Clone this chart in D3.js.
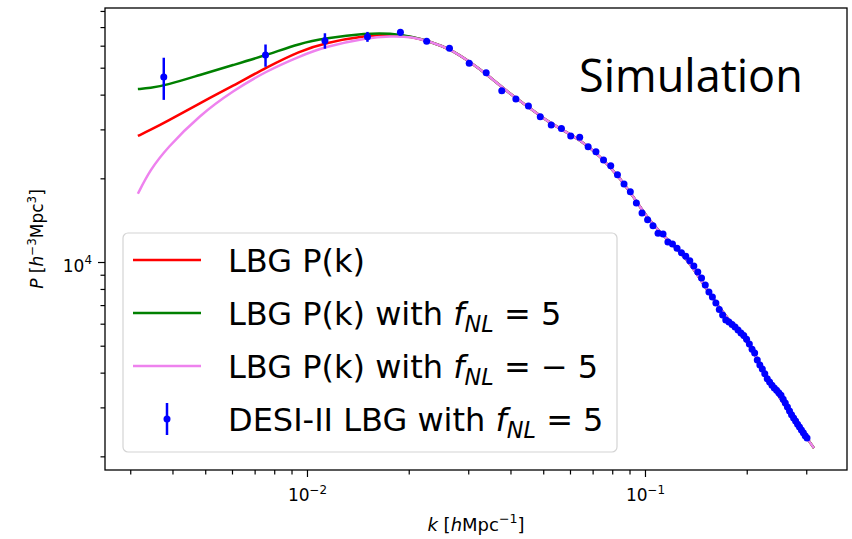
<!DOCTYPE html>
<html>
<head>
<meta charset="utf-8">
<script src="https://cdn.jsdelivr.net/npm/d3@7"></script>
<style>
  body { margin: 0; background: #fff; }
  svg { display: block; }
  text { font-family: "DejaVu Sans", sans-serif; white-space: pre; }
  text.note { font-family: "Open Sans", sans-serif; }
</style>
</head>
<body>
<svg id="chart" width="852" height="539"></svg>
<script>
// simulation points (k in h/Mpc, P in h^-3 Mpc^3)
const kData = [0.00377, 0.00754, 0.0113, 0.0151, 0.0189, 0.0226, 0.0264, 0.0302, 0.0339, 0.0377,
  0.0415, 0.0452, 0.0490, 0.0528, 0.0566, 0.0603, 0.0641, 0.0679, 0.0716, 0.0754,
  0.0792, 0.0829, 0.0867, 0.0905, 0.0943, 0.0980, 0.1018, 0.1056, 0.1093, 0.1131,
  0.1169, 0.1206, 0.1244, 0.1282, 0.1320, 0.1357, 0.1395, 0.1433, 0.1470, 0.1508,
  0.1546, 0.1583, 0.1621, 0.1659, 0.1697, 0.1734, 0.1772, 0.1810, 0.1847, 0.1885,
  0.1923, 0.1960, 0.1998, 0.2036, 0.2074, 0.2111, 0.2149, 0.2187, 0.2224, 0.2262,
  0.2300, 0.2337, 0.2375, 0.2413, 0.2451, 0.2488, 0.2526, 0.2564, 0.2601, 0.2639,
  0.2677, 0.2714, 0.2752, 0.2790, 0.2828, 0.2865, 0.2903, 0.2941, 0.2978, 0.3016];
const pData = [46300, 55500, 62500, 64600, 67000, 62200, 58700, 51900, 48000, 41300,
  38600, 36400, 33300, 31100, 30200, 28400, 28100, 26000, 24900, 23300,
  22200, 20600, 19100, 17900, 16300, 15000, 14200, 13500, 12700, 12600,
  11800, 11600, 11200, 10800, 10500, 10100, 9670, 9200, 8760, 8270,
  7800, 7480, 7120, 6750, 6450, 6190, 6090, 5960, 5840, 5690,
  5550, 5440, 5280, 5070, 4860, 4710, 4440, 4260, 4120, 3960,
  3800, 3700, 3600, 3520, 3460, 3390, 3320, 3210, 3110, 3010,
  2910, 2820, 2750, 2680, 2610, 2550, 2490, 2430, 2370, 2330];
// error bars, only visible for the first points
const pErr = [8000, 5100, 4000, 2650, 1800, 800, 500];

// model curves: separate at low k, shared tail
const kLow = [0.00316, 0.00343, 0.00385, 0.00482, 0.00604, 0.0076, 0.00953, 0.0113, 0.01505, 0.0176];
const pRedLow = [28400, 29800, 32000, 37300, 43000, 50200, 57400, 61500, 65200, 65900];
const pGreenLow = [41900, 42200, 43300, 47100, 51100, 55500, 61200, 63800, 66500, 66500];
const pVioletLow = [17600, 21400, 25700, 33800, 41300, 48700, 55000, 59500, 64100, 65000];
const kTail = [0.0206, 0.0231, 0.0265, 0.0304, 0.0348, 0.0399, 0.0457, 0.0523, 0.0600, 0.0688,
  0.0788, 0.0903, 0.1034, 0.1186, 0.1358, 0.1557, 0.1784, 0.2045, 0.2343, 0.2685, 0.3162];
const pTail = [64600, 62100, 58400, 52400, 46300, 40200, 35800, 31600, 28900, 25900,
  22100, 18000, 13900, 11800, 10000, 7610, 6090, 5070, 3670, 2860, 2140];

const xMajor = [0.01, 0.1];
const xMinor = [0.003, 0.004, 0.005, 0.006, 0.007, 0.008, 0.009, 0.02, 0.03, 0.04, 0.05, 0.06, 0.07, 0.08, 0.09, 0.2, 0.3];
const yMajor = [10000];
const yMinor = [2000, 3000, 4000, 5000, 6000, 7000, 8000, 9000, 20000, 30000, 40000, 50000, 60000, 70000, 80000];

const margin = {left: 105, right: 5, top: 8, bottom: 69};
const width = 852, height = 539;

const svg = d3.select("#chart");

const x = d3.scaleLog().domain([0.002526, 0.3960]).range([margin.left, width - margin.right]);
const y = d3.scaleLog().domain([1786, 81980]).range([height - margin.bottom, margin.top]);

// label with sub/superscripts: parts = [{s, it, sub, sup}], base = vertical offset of the baseline
function rich(sel, parts, size, base) {
  let cur = -(base || 0);
  parts.forEach(p => {
    const target = p.sub ? size * 0.22 : p.sup ? -size * 0.42 : 0;
    sel.append("tspan")
      .attr("dy", target - cur)
      .attr("font-size", (p.sub || p.sup) ? size * 0.7 : size)
      .attr("font-style", p.it ? "italic" : "normal")
      .text(p.s);
    cur = target;
  });
}

const curveGen = d3.line()
  .x(d => x(d[0]))
  .y(d => y(d[1]))
  .curve(d3.curveBasis);

function modelPts(pLow) {
  return kLow.map((k, i) => [k, pLow[i]]).concat(kTail.map((k, i) => [k, pTail[i]]));
}

const models = [
  {color: "red", p: pRedLow},
  {color: "green", p: pGreenLow},
  {color: "violet", p: pVioletLow}
];

svg.append("g")
  .selectAll("path")
  .data(models)
  .enter()
  .append("path")
  .attr("d", d => curveGen(modelPts(d.p)))
  .attr("fill", "none")
  .attr("stroke", d => d.color)
  .attr("stroke-width", 2.5);

// points + error bars
const pts = kData.map((k, i) => ({k: k, p: pData[i], e: pErr[i] || 0}));
const gPts = svg.append("g");
gPts.selectAll("line")
  .data(pts.filter(d => d.e > 0))
  .enter()
  .append("line")
  .attr("x1", d => x(d.k)).attr("x2", d => x(d.k))
  .attr("y1", d => y(d.p - d.e)).attr("y2", d => y(d.p + d.e))
  .attr("stroke", "blue")
  .attr("stroke-width", 2.5);
gPts.selectAll("circle")
  .data(pts)
  .enter()
  .append("circle")
  .attr("cx", d => x(d.k))
  .attr("cy", d => y(d.p))
  .attr("r", 3.5)
  .attr("fill", "blue");

// axes
const yBase = height - margin.bottom;
function drawX(vals, size, labels) {
  const g = svg.append("g")
    .attr("transform", `translate(0,${yBase})`)
    .call(d3.axisBottom(x).tickValues(vals).tickSize(size).tickPadding(12).tickFormat(""));
  g.select(".domain").remove();
  g.selectAll("line").attr("stroke", "#000").attr("stroke-width", 1.2);
  if (labels) {
    g.selectAll(".tick text").each(function(d) {
      const t = d3.select(this).attr("fill", "#000").attr("dy", null).attr("font-size", 17);
      rich(t, [{s: "10"}, {s: "\u2212" + Math.round(-Math.log10(d)), sup: true}], 17, 12);
    });
  }
}
drawX(xMinor, 4.5, false);
drawX(xMajor, 7, true);

function drawY(vals, size, labels) {
  const g = svg.append("g")
    .attr("transform", `translate(${margin.left},0)`)
    .call(d3.axisLeft(y).tickValues(vals).tickSize(size).tickPadding(6).tickFormat(""));
  g.select(".domain").remove();
  g.selectAll("line").attr("stroke", "#000").attr("stroke-width", 1.2);
  if (labels) {
    g.selectAll(".tick text").each(function(d) {
      const t = d3.select(this).attr("fill", "#000").attr("dy", null).attr("font-size", 17);
      rich(t, [{s: "10"}, {s: String(Math.round(Math.log10(d))), sup: true}], 17, 9);
    });
  }
}
drawY(yMinor, 4.5, false);
drawY(yMajor, 7, true);

svg.append("rect")
  .attr("x", margin.left).attr("y", margin.top)
  .attr("width", width - margin.right - margin.left)
  .attr("height", yBase - margin.top)
  .attr("fill", "none")
  .attr("stroke", "#000")
  .attr("stroke-width", 1.3);

// axis labels
const xl = svg.append("text")
  .attr("x", (margin.left + width - margin.right) / 2)
  .attr("y", 531)
  .attr("text-anchor", "middle")
  .attr("font-size", 18);
rich(xl, [{s: "k", it: true}, {s: " ["}, {s: "h", it: true}, {s: "Mpc"}, {s: "\u22121", sup: true}, {s: "]"}], 18);

const yl = svg.append("text")
  .attr("transform", `translate(43,${(margin.top + yBase) / 2}) rotate(-90)`)
  .attr("text-anchor", "middle")
  .attr("font-size", 17);
rich(yl, [{s: "P", it: true}, {s: " ["}, {s: "h", it: true}, {s: "\u22123", sup: true}, {s: "Mpc"}, {s: "3", sup: true}, {s: "]"}], 17);

// legend
const legendItems = [
  {type: "line", color: "red", parts: [{s: "LBG P(k)"}]},
  {type: "line", color: "green", parts: [{s: "LBG P(k) with "}, {s: "f", it: true}, {s: "NL", it: true, sub: true}, {s: " = 5"}]},
  {type: "line", color: "violet", parts: [{s: "LBG P(k) with "}, {s: "f", it: true}, {s: "NL", it: true, sub: true}, {s: " = \u2212 5"}]},
  {type: "err", color: "blue", parts: [{s: "DESI-II LBG with "}, {s: "f", it: true}, {s: "NL", it: true, sub: true}, {s: " = 5"}]}
];
const leg = svg.append("g");
leg.append("rect")
  .attr("x", 123).attr("y", 233)
  .attr("width", 494).attr("height", 219)
  .attr("rx", 5)
  .attr("fill", "#fff").attr("fill-opacity", 0.8)
  .attr("stroke", "#d4d4d4").attr("stroke-width", 1.2);
const rowY = d3.scalePoint().domain(d3.range(legendItems.length)).range([260, 419]);
legendItems.forEach((it, i) => {
  const yy = rowY(i);
  if (it.type === "line") {
    leg.append("line")
      .attr("x1", 133).attr("x2", 201)
      .attr("y1", yy).attr("y2", yy)
      .attr("stroke", it.color).attr("stroke-width", 2.5);
  } else {
    leg.append("line")
      .attr("x1", 167).attr("x2", 167)
      .attr("y1", yy - 16).attr("y2", yy + 16)
      .attr("stroke", it.color).attr("stroke-width", 2.5);
    leg.append("circle").attr("cx", 167).attr("cy", yy).attr("r", 3.5).attr("fill", it.color);
  }
  const t = leg.append("text")
    .attr("x", 228).attr("y", yy + 11.5)
    .attr("font-size", 32).attr("fill", "#000");
  rich(t, it.parts, 32);
});

// annotation
svg.append("text")
  .attr("class", "note")
  .attr("x", 579).attr("y", 92)
  .attr("font-size", 45)
  .attr("fill", "#000")
  .text("Simulation");
</script>
</body>
</html>
